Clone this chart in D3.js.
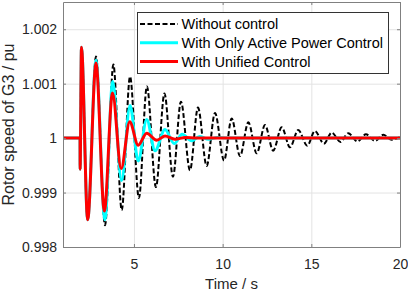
<!DOCTYPE html>
<html lang="en">
<head>
<meta charset="utf-8">
<title>Rotor speed of G3</title>
<script src="https://d3js.org/d3.v7.min.js"></script>
<style>
  body { margin: 0; background: #fff; }
  svg { display: block; font-family: "Liberation Sans", Arial, Helvetica, sans-serif; }
  .tick text { font-size: 14px; fill: #262626; }
  .axis path, .axis line { stroke: #808080; }
  .grid line { stroke: #e3e3e3; }
  .grid path { display: none; }
</style>
</head>
<body>
<script>
// axis ticks
const xTicks = [5, 10, 15, 20];
const yTicks = [0.998, 0.999, 1, 1.001, 1.002];
const yTickLabels = ["0.998", "0.999", "1", "1.001", "1.002"];

// legend names
const seriesNames = ["Without control", "With Only Active Power Control", "With Unified Control"];

// without control (peaks / troughs)
const tNoCtrl = [1, 1.96, 1.965, 2.04, 2.39, 2.86, 3.37, 3.84, 4.31, 4.78, 5.28, 5.73, 6.24, 6.72, 7.2,
  7.65, 8.16, 8.61, 9.1, 9.57, 10.08, 10.51, 10.98, 11.45, 11.92, 12.39, 12.85, 13.33, 13.8, 14.26,
  14.77, 15.2, 15.71, 16.15, 16.65, 17.08, 17.6, 18.08, 18.59, 19.06, 19.53, 20];
const wNoCtrl = [1, 1, 0.99943, 1.00167, 0.9985, 1.0015, 0.9984, 1.00135, 0.99868, 1.00113, 0.9989, 1.00095,
  0.9991, 1.00082, 0.99929, 1.00067, 0.99941, 1.00056, 0.99949, 1.00046, 0.99959, 1.00036, 0.99967,
  1.00029, 0.99972, 1.00024, 0.99977, 1.0002, 0.99983, 1.00015, 0.99986, 1.00013, 0.9999, 1.0001,
  0.99993, 1.00009, 0.99994, 1.00007, 0.99995, 1.00006, 0.99997, 1.00002];

// with only active power control
const tActive = [1, 1.96, 1.965, 2.04, 2.39, 2.86, 3.36, 3.8, 4.3, 4.78, 5.24, 5.72, 6.19, 6.75, 7.27,
  7.72, 8.25, 8.7, 9.2, 9.7, 10.3, 20];
const wActive = [1, 1, 0.99943, 1.00167, 0.9985, 1.00143, 0.9985, 1.00104, 0.99922, 1.0006, 0.99958, 1.00034,
  0.99977, 1.00016, 0.9999, 1.00007, 0.99995, 1.00003, 0.99998, 1.00001, 1, 1];

// with unified control
const tUnified = [1, 1.96, 1.965, 2.04, 2.39, 2.86, 3.33, 3.79, 4.28, 4.76, 5.24, 5.72, 6.28, 6.75, 7.31,
  7.9, 8.5, 20];
const wUnified = [1, 1, 0.99943, 1.00167, 0.9985, 1.00138, 0.99866, 1.00083, 0.99944, 1.0003, 0.99987,
  1.00009, 0.99996, 1.00004, 0.99998, 1.00001, 1, 1];

const width = 408, height = 292;
const mLeft = 63, mRight = 400, mTop = 2, mBottom = 247;

const svg = d3.select("body").append("svg")
  .attr("width", width)
  .attr("height", height);

const x = d3.scaleLinear().domain([1, 20]).range([mLeft, mRight]);
const y = d3.scaleLinear().domain([0.998, 1.0025]).range([mBottom, mTop]);

// grid
svg.append("g")
  .attr("class", "grid")
  .attr("transform", "translate(0," + mBottom + ")")
  .call(d3.axisBottom(x).tickValues(xTicks.slice(0, 3)).tickSize(-(mBottom - mTop)).tickFormat(""));
svg.append("g")
  .attr("class", "grid")
  .attr("transform", "translate(" + mLeft + ",0)")
  .call(d3.axisLeft(y).tickValues(yTicks.slice(1)).tickSize(-(mRight - mLeft)).tickFormat(""));

// lines
const series = [
  { t: tNoCtrl, w: wNoCtrl, color: "#000000", width: 2, dash: "5,2.5" },
  { t: tActive, w: wActive, color: "#00ffff", width: 3, dash: null },
  { t: tUnified, w: wUnified, color: "#ff0000", width: 3, dash: null }
];

const line = d3.line()
  .x(d => x(d[0]))
  .y(d => y(d[1]))
  .curve(d3.curveMonotoneX);

const plot = svg.append("g");
series.forEach(function(s) {
  const pts = s.t.map((t, i) => [t, s.w[i]]);
  plot.append("path")
    .datum(pts)
    .attr("d", line)
    .attr("fill", "none")
    .attr("stroke", s.color)
    .attr("stroke-width", s.width)
    .attr("stroke-dasharray", s.dash)
    .attr("stroke-linejoin", "round");
});

// axes (box with inward ticks)
svg.append("g")
  .attr("class", "axis")
  .attr("transform", "translate(0," + mBottom + ")")
  .call(d3.axisBottom(x).tickValues(xTicks).tickSize(-3).tickPadding(12).tickSizeOuter(0));
svg.append("g")
  .attr("class", "axis")
  .attr("transform", "translate(" + mLeft + ",0)")
  .call(d3.axisLeft(y).tickValues(yTicks).tickFormat((d, i) => yTickLabels[i]).tickSize(-3).tickPadding(6).tickSizeOuter(0));
svg.append("g")
  .attr("class", "axis")
  .attr("transform", "translate(0," + mTop + ")")
  .call(d3.axisTop(x).tickValues(xTicks).tickSize(-3).tickFormat("").tickSizeOuter(0));
svg.append("g")
  .attr("class", "axis")
  .attr("transform", "translate(" + mRight + ",0)")
  .call(d3.axisRight(y).tickValues(yTicks).tickSize(-3).tickFormat("").tickSizeOuter(0));

// axis titles
svg.append("text")
  .attr("x", (mLeft + mRight) / 2)
  .attr("y", 289)
  .attr("text-anchor", "middle")
  .attr("font-size", 15)
  .attr("fill", "#262626")
  .text("Time / s");

svg.append("text")
  .attr("transform", "translate(13.5," + (mTop + mBottom) / 2 + ") rotate(-90)")
  .attr("text-anchor", "middle")
  .attr("font-size", 16)
  .attr("fill", "#262626")
  .text("Rotor speed of G3 / pu");

// legend
const legend = svg.append("g");
legend.append("rect")
  .attr("x", 137.5)
  .attr("y", 12.5)
  .attr("width", 251)
  .attr("height", 61)
  .attr("fill", "#fff")
  .attr("stroke", "#333");

seriesNames.forEach(function(name, i) {
  const ry = 24 + i * 18.8;
  legend.append("line")
    .attr("x1", 140)
    .attr("x2", 178)
    .attr("y1", ry)
    .attr("y2", ry)
    .attr("stroke", series[i].color)
    .attr("stroke-width", series[i].width)
    .attr("stroke-dasharray", series[i].dash);
  legend.append("text")
    .attr("x", 181.5)
    .attr("y", ry + 5)
    .attr("font-size", 14.5)
    .attr("fill", "#000")
    .text(name);
});
</script>
</body>
</html>
